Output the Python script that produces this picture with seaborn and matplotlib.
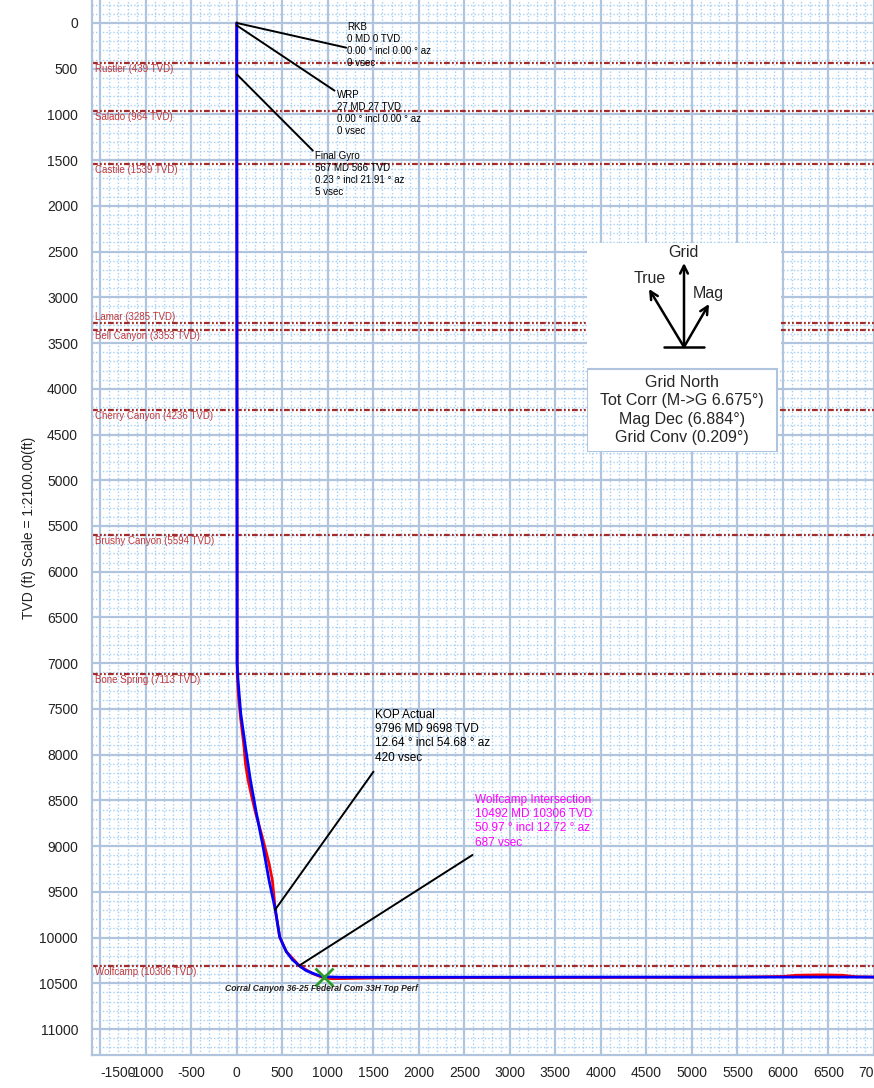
import numpy as np
import pandas as pd
import matplotlib
matplotlib.use("Agg")
import matplotlib.pyplot as plt
import matplotlib.transforms as mtransforms
import seaborn as sns
from matplotlib.ticker import MultipleLocator
from matplotlib.patches import Rectangle

# ---------------- data ----------------
plan_vsec = [0, 0, 0, 4, 14, 44, 95, 150, 216, 289, 354, 424, 471, 500, 545, 610, 690,
             760, 836, 900, 953, 1130, 2000, 3000, 4000, 5000, 6000, 7000, 7100]
plan_tvd = [0, 27, 566, 7000, 7184, 7548, 7913, 8277, 8641, 9006, 9370, 9698, 9990, 10060,
            10154, 10240, 10311, 10360, 10391, 10415, 10428, 10434, 10434, 10433, 10432,
            10432, 10432, 10432, 10432]

actual_vsec = [0, 0, 5, 18, 42, 80, 95, 124, 165, 208, 250, 289, 322, 354, 391, 409, 424,
               471, 545, 690, 836, 953, 1050, 1500, 2500, 4000, 5500, 6000, 6150, 6400,
               6650, 6800, 7100]
actual_tvd = [0, 566, 7100, 7350, 7600, 7913, 8095, 8277, 8460, 8641, 8790, 8933, 9060,
              9188, 9370, 9552, 9698, 9990, 10154, 10311, 10395, 10440, 10450, 10442,
              10438, 10436, 10434, 10425, 10412, 10408, 10412, 10428, 10434]

formation_names = ["Rustler", "Salado", "Castile", "Lamar", "Bell Canyon", "Cherry Canyon",
                   "Brushy Canyon", "Bone Spring", "Wolfcamp"]
formation_tvd = [439, 964, 1539, 3285, 3353, 4236, 5594, 7113, 10306]

x_ticks = list(range(-1500, 7001, 500))
y_ticks = list(range(0, 11001, 500))

ann_labels = ["RKB\n0 MD 0 TVD\n0.00 ° incl 0.00 ° az\n0 vsec",
              "WRP\n27 MD 27 TVD\n0.00 ° incl 0.00 ° az\n0 vsec",
              "Final Gyro\n567 MD 566 TVD\n0.23 ° incl 21.91 ° az\n5 vsec",
              "KOP Actual\n9796 MD 9698 TVD\n12.64 ° incl 54.68 ° az\n420 vsec",
              "Wolfcamp Intersection\n10492 MD 10306 TVD\n50.97 ° incl 12.72 ° az\n687 vsec"]
ann_point_vsec = [0, 0, 5, 420, 687]
ann_point_tvd = [0, 27, 566, 9698, 10306]
ann_end_vsec = [1202, 1074, 836, 1502, 2590]
ann_end_tvd = [270, 740, 1396, 8186, 9097]
ann_text_vsec = [1213, 1099, 855, 1523, 2619]
ann_text_tvd = [-15, 730, 1398, 7500, 8430]
ann_colors = ["black", "black", "black", "black", "#ff00ff"]
ann_sizes = [7, 7, 7, 8.5, 8.5]

target_vsec = [953]
target_tvd = [10428]
target_label = "Corral Canyon 36-25 Federal Com 33H Top Perf"

compass_lines = ["Grid North", "Tot Corr (M->G 6.675°)", "Mag Dec (6.884°)", "Grid Conv (0.209°)"]

# ---------------- style ----------------
sns.set_theme(style="white")
plt.rcParams["font.family"] = ["Liberation Sans", "DejaVu Sans"]
plt.rcParams["axes.unicode_minus"] = False

W, H = 874, 1088
fig = plt.figure(figsize=(W / 100, H / 100), dpi=100)
ax = fig.add_axes([92 / W, 1 - 1055 / H, 1 - 92 / W, 1055 / H])

ax.set_xlim(-1590, 7000)
ax.set_ylim(11284, -251)

ax.xaxis.set_minor_locator(MultipleLocator(100))
ax.yaxis.set_minor_locator(MultipleLocator(100))
ax.set_xticks(x_ticks)
ax.set_yticks(y_ticks)
ax.set_xticklabels([str(v) for v in x_ticks])
ax.set_yticklabels([str(v) for v in y_ticks])
ax.set_axisbelow(True)
ax.grid(which="minor", color="#a6d0f3", lw=1.0, linestyle=(0, (1, 1.5)))
ax.grid(which="major", color="#b0c4de", lw=1.6, linestyle="-")
ax.tick_params(which="both", length=0)
ax.tick_params(axis="y", labelsize=10, pad=10, labelcolor="#222222")
ax.tick_params(axis="x", labelsize=10, pad=8, labelcolor="#222222")
for s in ["top", "right"]:
    ax.spines[s].set_visible(False)
for s in ["left", "bottom"]:
    ax.spines[s].set_color("#b0c4de")
    ax.spines[s].set_linewidth(1.6)

# shift the clipped first x label to the right as in the reference
first = ax.get_xticklabels()[0]
first.set_transform(first.get_transform() +
                    mtransforms.ScaledTranslation(18 / 100, 0, fig.dpi_scale_trans))

# formations
ytr = ax.get_yaxis_transform()
for name, tvd in zip(formation_names, formation_tvd):
    ax.axhline(tvd, color="#a52a2a", lw=1.6, dashes=(2.6, 1, 0.8, 1, 0.8, 1), zorder=2)
    if name == "Lamar":
        ax.text(0.004, tvd - 15, f"{name} ({tvd} TVD)", transform=ytr, fontsize=7,
                color="#c0393b", va="bottom", ha="left", zorder=3)
    else:
        ax.text(0.004, tvd + 12, f"{name} ({tvd} TVD)", transform=ytr, fontsize=7,
                color="#c0393b", va="top", ha="left", zorder=3)

# wellbore
df_act = pd.DataFrame({"vsec": actual_vsec, "tvd": actual_tvd})
df_plan = pd.DataFrame({"vsec": plan_vsec, "tvd": plan_tvd})
sns.lineplot(data=df_act, x="vsec", y="tvd", sort=False, estimator=None, color="#ff0000",
             linewidth=2.0, ax=ax, zorder=4)
sns.lineplot(data=df_plan, x="vsec", y="tvd", sort=False, estimator=None, color="#0000ff",
             linewidth=2.0, ax=ax, zorder=5)
ax.set_xlabel("")
ax.set_ylabel("TVD (ft) Scale = 1:2100.00(ft)", fontsize=10, color="#222222")
ax.yaxis.set_label_coords(-0.071, 0.5)

# annotations
for lab, px, py, ex, ey, tx, ty, c, fs in zip(ann_labels, ann_point_vsec, ann_point_tvd,
                                             ann_end_vsec, ann_end_tvd, ann_text_vsec,
                                             ann_text_tvd, ann_colors, ann_sizes):
    ax.annotate("", xy=(px, py), xytext=(ex, ey),
                arrowprops=dict(arrowstyle="-", color="black", lw=1.4, shrinkA=0, shrinkB=0),
                zorder=6)
    ax.text(tx, ty, lab, fontsize=fs, color=c, ha="left", va="top", linespacing=1.25, zorder=6)

# target
ax.plot(target_vsec, target_tvd, marker="x", markersize=13, mew=2, color="#2a9a2a",
        linestyle="none", zorder=7)
ax.text(target_vsec[0] - 25, target_tvd[0] + 127, target_label, fontsize=6.2,
        fontweight="bold", fontstyle="italic", color="#222222", ha="center", va="center",
        zorder=7)

# compass box
cax = fig.add_axes([587 / W, 1 - 452 / H, (781 - 587) / W, (452 - 243) / H])
cax.set_xlim(587, 781)
cax.set_ylim(452, 243)
cax.axis("off")
cax.add_patch(Rectangle((587, 243), 194, 125, facecolor="white", edgecolor="none"))
cax.add_patch(Rectangle((587, 368.5), 190, 83, facecolor="white", edgecolor="#b0c4de", lw=1.5))
cax.plot([664, 704], [347, 347], color="black", lw=1.8)
ap = dict(arrowstyle="->", color="black", lw=1.8, shrinkA=0, shrinkB=0, mutation_scale=14)
cax.annotate("", xy=(684, 263), xytext=(684, 347), arrowprops=ap)
cax.annotate("", xy=(649, 289), xytext=(684, 347), arrowprops=ap)
cax.annotate("", xy=(709, 304), xytext=(684, 347), arrowprops=ap)
cax.text(683.5, 252.5, "Grid", ha="center", va="center", fontsize=11.5)
cax.text(650, 278.5, "True", ha="center", va="center", fontsize=11.5)
cax.text(708, 293.5, "Mag", ha="center", va="center", fontsize=11.5)
cax.text(682, 410, "\n".join(compass_lines), ha="center", va="center", fontsize=11.5,
         linespacing=1.28)

fig.savefig("out.png", dpi=100)
